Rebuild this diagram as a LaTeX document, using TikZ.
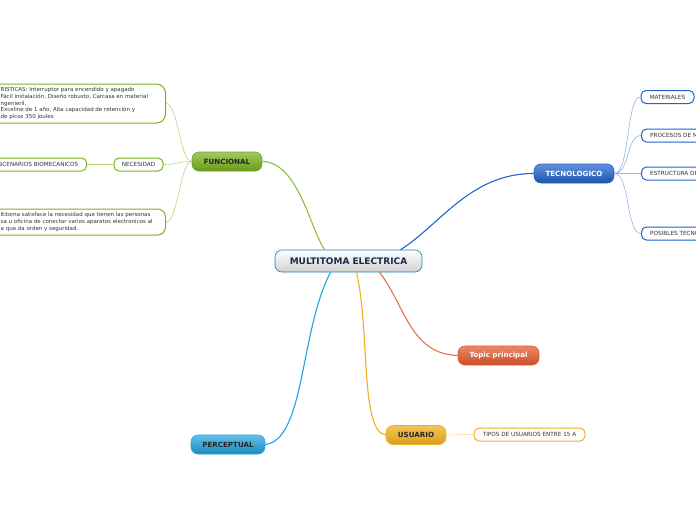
\documentclass[tikz,border=0pt]{standalone}
\usepackage{fontspec}
\setmainfont{DejaVu Sans}
\usetikzlibrary{calc}
\definecolor{gA}{HTML}{7AB51D}
\definecolor{gL}{HTML}{B3D67A}
\definecolor{bA}{HTML}{1F63CC}
\definecolor{bL}{HTML}{8DB4EE}
\definecolor{oA}{HTML}{E2562C}
\definecolor{yA}{HTML}{F2B01E}
\definecolor{yL}{HTML}{F8D68A}
\definecolor{cA}{HTML}{1FA3DE}
\definecolor{navy}{HTML}{1A2A50}
\tikzset{
  topic/.style={rounded corners=7pt, draw, line width=0.6pt, minimum height=19pt, inner sep=0pt,
    font=\bfseries\fontsize{7.1}{8}\selectfont},
  sub/.style={rounded corners=5pt, draw, line width=1pt, fill=white, minimum height=13pt, inner sep=0pt,
    font=\fontsize{5.7}{6.7}\selectfont, text=black!80},
  subtext/.style={inner sep=0pt, font=\fontsize{5.7}{6.7}\selectfont, text=black!80, align=left},
  mainline/.style={line width=1.1pt},
  subline/.style={line width=0.6pt},
}
\begin{document}
\begin{tikzpicture}[x=1pt,y=-1pt]
\useasboundingbox (0,0) rectangle (696,520);
% central
\node[topic, draw=cA!80!black, top color=white, bottom color=black!18, minimum width=147pt, minimum height=22pt,
  text=navy, font=\bfseries\fontsize{9}{10}\selectfont] (c) at (348.5,261) {MULTITOMA ELECTRICA};
% main topics
\node[topic, draw=gA!90!black, top color=gA!70!white, bottom color=gA!85!black, minimum width=70pt, text=black!85] (fun) at (227,161.5) {FUNCIONAL};
\node[topic, draw=bA, top color=bA!70!white, bottom color=bA!85!black, minimum width=80pt, text=white] (tec) at (574,173.5) {TECNOLOGICO};
\node[topic, draw=oA, top color=oA!70!white, bottom color=oA!90!black, minimum width=81pt, text=white] (top) at (498.5,355.5) {Topic principal};
\node[topic, draw=yA, top color=yA!75!white, bottom color=yA!90!black, minimum width=60pt, text=black!85] (usu) at (416,435) {USUARIO};
\node[topic, draw=cA, top color=cA!70!white, bottom color=cA!85!black, minimum width=74pt, text=black!85] (per) at (228,444.5) {PERCEPTUAL};
% main connectors
\draw[mainline, gA!85!white] ($(c.north)+(-24,0)$) .. controls (310,228) and (298,162) .. (fun.east);
\draw[mainline, bA] ($(c.north)+(52,0)$) .. controls (440,225) and (470,173.5) .. (tec.west);
\draw[mainline, oA!85!white] ($(c.south)+(31,0)$) .. controls (405,305) and (410,354) .. (top.west);
\draw[mainline, yA] ($(c.south)+(8,0)$) .. controls (370,330) and (360,432) .. (usu.west);
\draw[mainline, cA] ($(c.south)+(-18,0)$) .. controls (300,330) and (305,440) .. (per.east);
% funcional subs
\node[sub, draw=gA, minimum height=39pt, minimum width=200pt, anchor=east, rounded corners=9pt] (car) at (166,103.5) {};
\node[subtext, anchor=west, font=\fontsize{5.5}{6.7}\selectfont] (cart) at (0.5,103.5)
{RISTICAS: Interruptor para encendido y apagado\\
F\'acil instalaci\'on, Dise\~no robusto, Carcasa en material\\
ngenieril,\\
Exceline de 1 a\~no, Alta capacidad de retenci\'on y\\
de picos 350 joules};
\node[sub, draw=gA, minimum width=49pt] (nec) at (138.5,164.5) {NECESIDAD};
\node[sub, draw=gA, minimum width=120pt, anchor=east] (esc) at (87,164.5) {};
\node[subtext, anchor=east] (esct) at (78.5,164.5) {SCENARIOS BIOMECANICOS};
\node[sub, draw=gA, minimum height=26pt, minimum width=200pt, anchor=east, rounded corners=8pt] (sat) at (166,222) {};
\node[subtext, anchor=west, font=\fontsize{5.5}{6.7}\selectfont] (satt) at (0.5,222)
{ltitoma satisface la necesidad que tienen las personas\\
sa u oficina de conectar varios aparatos electronicos al\\
a que da orden y seguridad.};
\draw[subline, gL] (fun.west) .. controls (180,161.5) and (178,103.5) .. (car.east);
\draw[subline, gL] (fun.west) .. controls (178,161.5) and (176,164.5) .. (nec.east);
\draw[subline, gL] (fun.west) .. controls (180,161.5) and (178,222) .. (sat.east);
\draw[subline, gL] (nec.west) -- (esc.east);
% tecnologico subs
\node[sub, draw=bA, minimum width=53pt] (mat) at (667.5,97) {MATERIALES};
\node[sub, draw=bA, minimum width=80pt, anchor=west] (pro) at (641,135.5) {};
\node[sub, draw=bA, minimum width=80pt, anchor=west] (est) at (641,173.5) {};
\node[sub, draw=bA, minimum width=80pt, anchor=west] (pos) at (641,233.5) {};
\node[subtext, anchor=west] (prot) at (650,135.5) {PROCESOS DE M};
\node[subtext, anchor=west] (estt) at (650,173.5) {ESTRUCTURA DE};
\node[subtext, anchor=west] (post) at (650,233.5) {POSIBLES TECNO};
\foreach \n/\y in {mat/97,pro/135.5,est/173.5,pos/233.5}{
  \draw[subline, bL] (tec.east) .. controls (630,173.5) and (626,\y) .. (\n.west);
}
% usuario sub
\node[sub, draw=yA, minimum width=111pt] (tip) at (529.5,434.5) {TIPOS DE USUARIOS ENTRE 15 A};
\draw[subline, yL] (usu.east) -- (tip.west);
\end{tikzpicture}
\end{document}
